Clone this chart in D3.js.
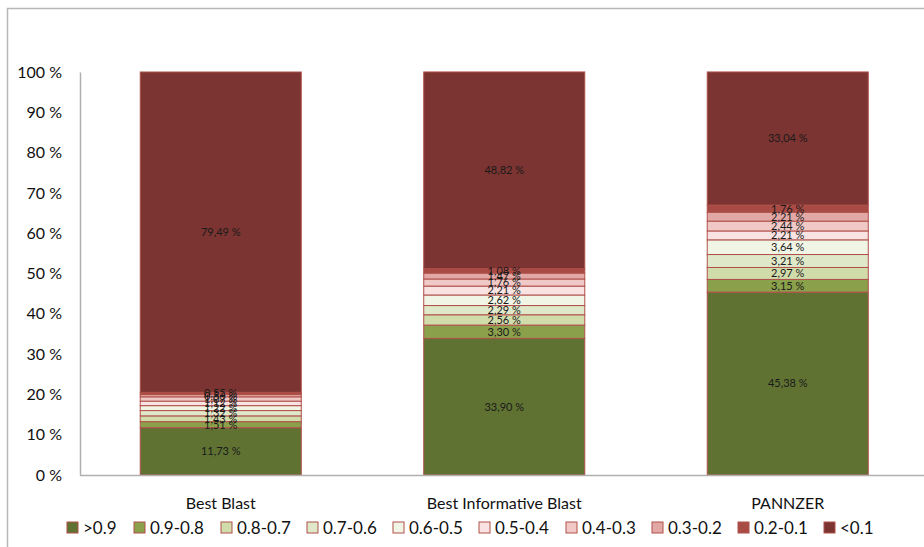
<!DOCTYPE html>
<html>
<head>
<meta charset="utf-8">
<script src="https://cdn.jsdelivr.net/npm/d3@7"></script>
<style>
  html, body { margin: 0; padding: 0; background: #fff; }
  svg { display: block; font-family: "Lato", "Open Sans", sans-serif; }
</style>
</head>
<body>
<svg id="chart" width="924" height="547"></svg>
<script>
// Methods compared along the x axis
const categories = ["Best Blast", "Best Informative Blast", "PANNZER"];

// Score bins, bottom of the stack first
const bins = [">0.9", "0.9-0.8", "0.8-0.7", "0.7-0.6", "0.6-0.5",
              "0.5-0.4", "0.4-0.3", "0.3-0.2", "0.2-0.1", "<0.1"];

// Share (%) of each bin per method
const bestBlast        = [11.73, 1.51, 1.43, 1.32, 1.22, 1.12, 1.07, 0.56, 0.55, 79.49];
const bestInformative  = [33.90, 3.30, 2.56, 2.29, 2.62, 2.21, 1.76, 1.47, 1.08, 48.82];
const pannzer          = [45.38, 3.15, 2.97, 3.21, 3.64, 2.21, 2.44, 2.21, 1.76, 33.04];

const yTicks = [0, 10, 20, 30, 40, 50, 60, 70, 80, 90, 100];

const binColors = ["#5f7232", "#8aa04b", "#d1dcab", "#e0e8ca", "#f1f5e5",
                   "#f8e2e2", "#f0c9c7", "#e2a8a6", "#a94b45", "#7b3431"];

const seriesValues = [bestBlast, bestInformative, pannzer];
const rows = categories.map((c, i) => {
  const r = { category: c };
  bins.forEach((b, j) => { r[b] = seriesValues[i][j]; });
  return r;
});

const svg = d3.select("#chart");

// outer chart frame
svg.append("path")
  .attr("d", "M7.5,547 L7.5,8.5 L924,8.5")
  .attr("fill", "none").attr("stroke", "#b8b8b8").attr("stroke-width", 1.5);

const x = d3.scaleBand().domain(categories).range([79, 929.5])
  .paddingInner(0.432).paddingOuter(0.216);
const y = d3.scaleLinear().domain([0, 100]).range([475, 72]);
const color = d3.scaleOrdinal().domain(bins).range(binColors);

const stack = d3.stack().keys(bins);
const layers = stack(rows);

// y axis
const yAxis = svg.append("g").attr("transform", "translate(80,0)")
  .call(d3.axisLeft(y).tickValues(yTicks).tickSize(0).tickPadding(18)
    .tickFormat(d => d + " %"));
yAxis.select(".domain").attr("stroke", "#b0b0b0").attr("stroke-width", 1.5);
yAxis.selectAll("text").attr("font-size", 16).attr("fill", "#111")
  .attr("font-family", "Lato, sans-serif");

// bars
const fmt = d3.format(".2f");
const layerG = svg.append("g").selectAll("g").data(layers).join("g")
  .attr("fill", d => color(d.key));
layerG.selectAll("rect").data(d => d).join("rect")
  .attr("x", d => x(d.data.category))
  .attr("width", x.bandwidth())
  .attr("y", d => y(d[1]))
  .attr("height", d => y(d[0]) - y(d[1]))
  .attr("stroke", "#b0504a").attr("stroke-width", 1);

// x axis line
svg.append("line").attr("x1", 80).attr("x2", 924).attr("y1", 475.5).attr("y2", 475.5)
  .attr("stroke", "#b0b0b0").attr("stroke-width", 1.5);

// value labels, centred in each segment
const labelG = svg.append("g");
layers.forEach(layer => {
  layer.forEach(d => {
    labelG.append("text")
      .attr("x", x(d.data.category) + x.bandwidth() / 2)
      .attr("y", (y(d[0]) + y(d[1])) / 2)
      .attr("dy", "0.35em")
      .attr("text-anchor", "middle")
      .attr("font-size", 11)
      .attr("fill", "#1a1a1a")
      .text(fmt(d.data[layer.key]).replace(".", ",") + " %");
  });
});

// category labels
svg.append("g").selectAll("text").data(categories).join("text")
  .attr("x", d => x(d) + x.bandwidth() / 2)
  .attr("y", 509)
  .attr("text-anchor", "middle")
  .attr("font-size", 16)
  .attr("fill", "#111")
  .text(d => d);

// legend
const legendX = [67, 134, 221, 307, 393, 479, 566, 652, 738, 824];
const leg = svg.append("g").selectAll("g").data(bins).join("g")
  .attr("transform", (d, i) => `translate(${legendX[i]},522)`);
leg.append("rect").attr("width", 11).attr("height", 11)
  .attr("fill", d => color(d)).attr("stroke", "#b0504a").attr("stroke-width", 1);
leg.append("text").attr("x", 16).attr("y", 5.5).attr("dy", "0.38em")
  .attr("font-size", 17).attr("fill", "#111").text(d => d);
</script>
</body>
</html>
